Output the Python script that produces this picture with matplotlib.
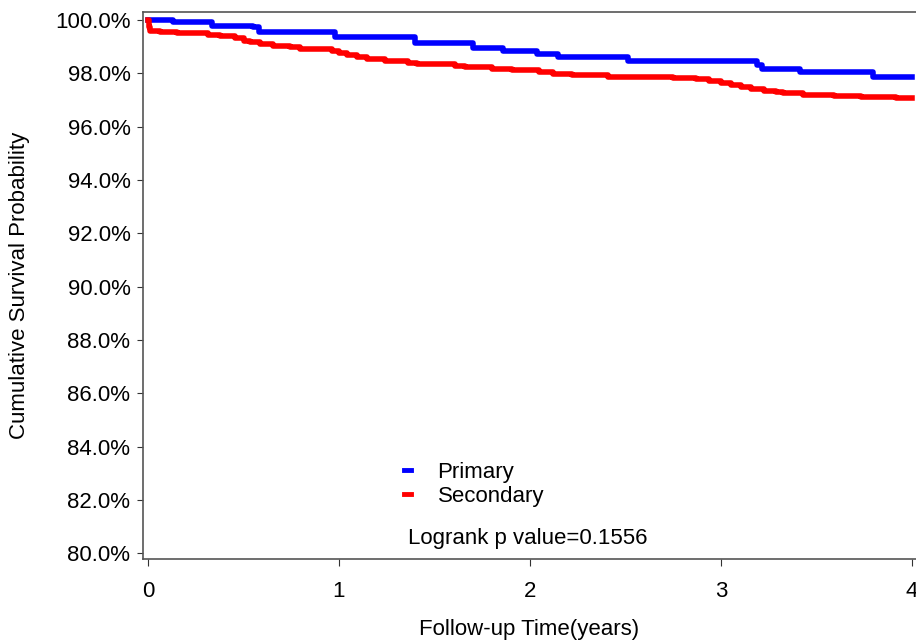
import matplotlib
matplotlib.use("Agg")
import matplotlib.pyplot as plt
from matplotlib.ticker import FuncFormatter

plt.rcParams['font.family'] = ['Liberation Sans', 'DejaVu Sans']

# Kaplan-Meier step data (years, survival %)
primary_t = [0, 0.129, 0.333, 0.55, 0.58, 0.979, 1.398, 1.703, 1.86, 2.035,
             2.148, 2.515, 3.187, 3.213, 3.414, 3.797, 4.0]
primary_s = [100, 99.91, 99.79, 99.72, 99.56, 99.37, 99.12, 98.96, 98.84, 98.71,
             98.60, 98.48, 98.31, 98.16, 98.04, 97.85, 97.85]

secondary_t = [0, 0.005, 0.010, 0.063, 0.150, 0.316, 0.377, 0.455, 0.503, 0.534,
               0.586, 0.656, 0.743, 0.796, 0.962, 1.002, 1.040, 1.093, 1.145, 1.241,
               1.363, 1.407, 1.607, 1.660, 1.799, 1.904, 2.049, 2.122, 2.222, 2.410,
               2.747, 2.869, 2.939, 3.000, 3.051, 3.103, 3.155, 3.225, 3.288, 3.323,
               3.428, 3.592, 3.731, 3.916, 4.0]
secondary_s = [100, 99.75, 99.60, 99.54, 99.50, 99.44, 99.40, 99.31, 99.23, 99.16,
               99.10, 99.04, 98.97, 98.93, 98.85, 98.75, 98.68, 98.60, 98.55, 98.45,
               98.39, 98.34, 98.28, 98.23, 98.16, 98.11, 98.05, 97.99, 97.93, 97.88,
               97.83, 97.78, 97.73, 97.65, 97.58, 97.48, 97.40, 97.35, 97.30, 97.25,
               97.20, 97.15, 97.11, 97.08, 97.08]

x_ticks = [0, 1, 2, 3, 4]
y_ticks = [80, 82, 84, 86, 88, 90, 92, 94, 96, 98, 100]
p_text = "Logrank p value=0.1556"

fig = plt.figure(figsize=(9.16, 6.42), dpi=100)
ax = fig.add_axes([143/916, 1 - 559/642, 773/916, 547/642])

ax.step(primary_t, primary_s, where='post', color='#0000ff', lw=4, label='Primary')
ax.step(secondary_t, secondary_s, where='post', color='#ff0000', lw=4, label='Secondary')

ax.set_xlim(-0.026, 4.021)
ax.set_ylim(79.79, 100.3)
ax.set_xticks(x_ticks)
ax.set_yticks(y_ticks)
ax.yaxis.set_major_formatter(FuncFormatter(lambda v, p: f"{v:.1f}%"))

for s in ['left', 'top', 'bottom']:
    ax.spines[s].set_color('#555555')
    ax.spines[s].set_linewidth(1.2)
ax.spines['right'].set_visible(False)

ax.tick_params(axis='both', labelsize=16, color='#333333', direction='out')
ax.tick_params(axis='x', length=5, pad=11)
ax.tick_params(axis='y', length=4, pad=5)

ax.set_xlabel("Follow-up Time(years)", fontsize=16, labelpad=12)
ax.set_ylabel("Cumulative Survival Probability", fontsize=16, labelpad=18)

leg = ax.legend(loc='upper left', bbox_to_anchor=(0.338, 0.178), frameon=False,
                fontsize=16, handlelength=0.3, handletextpad=1.2,
                labelspacing=0.15, borderpad=0, borderaxespad=0)
for h in leg.get_lines():
    h.set_linewidth(3.5)

ax.text(0.343, 0.038, p_text, transform=ax.transAxes, fontsize=16,
        va='center', ha='left')

fig.savefig("out.png", dpi=100)
